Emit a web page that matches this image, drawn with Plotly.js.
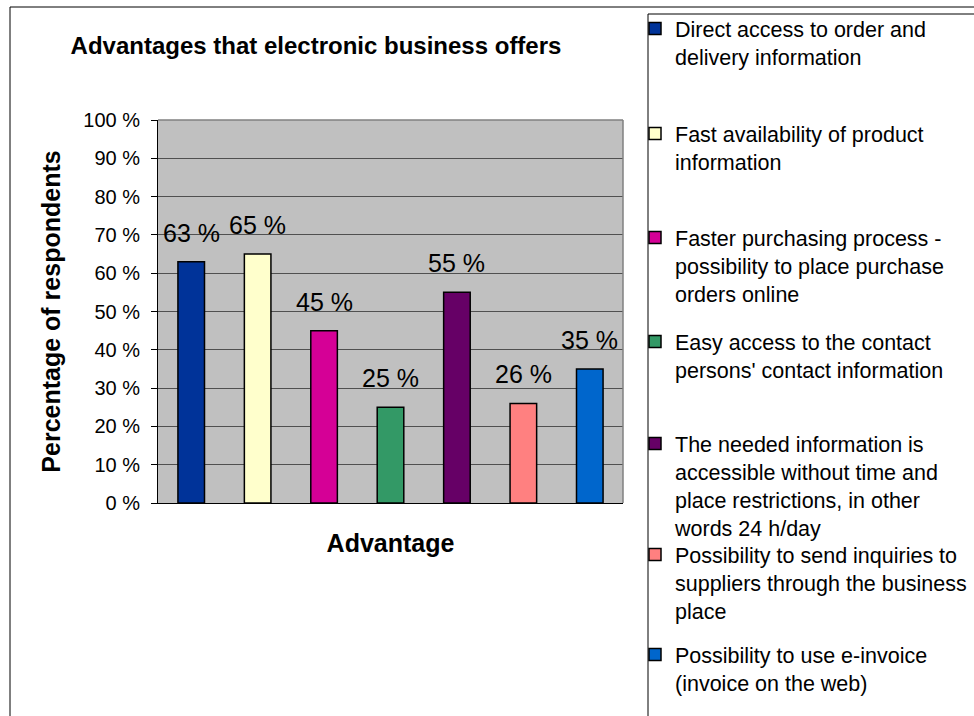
<!DOCTYPE html>
<html>
<head>
<meta charset="utf-8">
<script src="https://cdn.plot.ly/plotly-3.0.1.min.js"></script>
<style>
html,body{margin:0;padding:0;background:#fff;}
#chart{width:974px;height:716px;}
</style>
</head>
<body>
<div id="chart"></div>
<script>
// ---- data ----
const categories = [
  "Direct access to order and delivery information",
  "Fast availability of product information",
  "Faster purchasing process - possibility to place purchase orders online",
  "Easy access to the contact persons' contact information",
  "The needed information is accessible without time and place restrictions, in other words 24 h/day",
  "Possibility to send inquiries to suppliers through the business place",
  "Possibility to use e-invoice (invoice on the web)"
];
const legendLabels = [
  ["Direct access to order and", "delivery information"],
  ["Fast availability of product", "information"],
  ["Faster purchasing process -", "possibility to place purchase", "orders online"],
  ["Easy access to the contact", "persons' contact information"],
  ["The needed information is", "accessible without time and", "place restrictions, in other", "words 24 h/day"],
  ["Possibility to send inquiries to", "suppliers through the business", "place"],
  ["Possibility to use e-invoice", "(invoice on the web)"]
];
const percentages = [63, 65, 45, 25, 55, 26, 35];
const yTickValues = [0, 10, 20, 30, 40, 50, 60, 70, 80, 90, 100];
const yTickLabels = ["0 %", "10 %", "20 %", "30 %", "40 %", "50 %", "60 %", "70 %", "80 %", "90 %", "100 %"];

// ---- styles ----
const barColors = ["#003399", "#FFFFCC", "#D50096", "#339966", "#660066", "#FF8080", "#0066CC"];
const FONT = "Liberation Sans, Arial, Helvetica, sans-serif";
const W = 974, H = 716;
const PL = 158, PR = 623, PT = 120, PB = 503;
const pw = PR - PL, ph = PB - PT;
const px = v => (v - PL) / pw;
const py = v => (PB - v) / ph;
// top pixel of each legend entry (entries are evenly distributed)
const legendTops = [8, 113, 217, 321, 423, 534, 634];

const legendIds = categories.map((c, i) => i === 0 ? "legend" : "legend" + (i + 1));

const traces = categories.map((c, i) => ({
  type: "bar",
  x: [c],
  y: [percentages[i]],
  name: legendLabels[i].join("<br>"),
  legend: legendIds[i],
  marker: { color: barColors[i], line: { color: "#000000", width: 1.5 } },
  hovertemplate: "%{y} %<extra></extra>"
}));

const annotations = categories.map((c, i) => ({
  x: c, y: percentages[i], xref: "x", yref: "y",
  text: percentages[i] + " %",
  showarrow: false, yanchor: "bottom", xanchor: "center",
  yshift: 13,
  font: { family: FONT, size: 25, color: "#000" }
}));

const shapes = [
  // outer chart border
  { type: "rect", xref: "paper", yref: "paper", x0: px(10), x1: px(990), y0: py(730), y1: py(7),
    line: { color: "#000", width: 1 }, fillcolor: "rgba(0,0,0,0)", layer: "below" },
  // legend box
  { type: "rect", xref: "paper", yref: "paper", x0: px(648), x1: px(990), y0: py(730), y1: py(14),
    line: { color: "#000", width: 1 }, fillcolor: "rgba(0,0,0,0)", layer: "below" },
  // plot area top and right border
  { type: "line", xref: "paper", yref: "paper", x0: 0, x1: 1, y0: 1, y1: 1, line: { color: "#808080", width: 1.5 }, layer: "above" },
  { type: "line", xref: "paper", yref: "paper", x0: 1, x1: 1, y0: 0, y1: 1, line: { color: "#808080", width: 1.5 }, layer: "above" }
];

const layout = {
  width: W, height: H,
  margin: { l: PL, r: W - PR, t: PT, b: H - PB, pad: 0, autoexpand: false },
  paper_bgcolor: "#ffffff",
  plot_bgcolor: "#C0C0C0",
  font: { family: FONT, color: "#000", size: 20 },
  title: {
    text: "Advantages that electronic business offers",
    font: { family: FONT, size: 24, weight: "bold", color: "#000" },
    xref: "container", yref: "container",
    x: 316 / W, y: 1 - 46 / H, xanchor: "center", yanchor: "middle"
  },
  xaxis: {
    type: "category",
    showticklabels: false, ticks: "",
    showline: true, linecolor: "#000", linewidth: 1,
    showgrid: false, zeroline: false,
    automargin: false,
    title: { text: "Advantage", font: { family: FONT, size: 25, weight: "bold", color: "#000" }, standoff: 31 }
  },
  yaxis: {
    range: [0, 100],
    tickmode: "array", tickvals: yTickValues, ticktext: yTickLabels,
    ticks: "outside", ticklen: 6, tickcolor: "#000", tickwidth: 1,
    ticklabelstandoff: 7,
    showline: true, linecolor: "#000", linewidth: 1,
    showgrid: true, gridcolor: "#505050", gridwidth: 1,
    zeroline: false, automargin: false,
    tickfont: { family: FONT, size: 20, color: "#000" },
    title: { text: "Percentage of respondents", font: { family: FONT, size: 25, weight: "bold", color: "#000" }, standoff: 15 }
  },
  barmode: "overlay",
  bargap: 0.6,
  shapes: shapes,
  annotations: annotations
};

legendIds.forEach((id, i) => {
  layout[id] = {
    xref: "container", yref: "container",
    x: 635 / W, y: 1 - legendTops[i] / H, xanchor: "left", yanchor: "top",
    font: { family: FONT, size: 21.5, color: "#000" },
    valign: "top",
    bgcolor: "rgba(0,0,0,0)", borderwidth: 0,
    visible: true
  };
});
layout.showlegend = true;

Plotly.newPlot("chart", traces, layout, { displayModeBar: false, staticPlot: true });
</script>
</body>
</html>
